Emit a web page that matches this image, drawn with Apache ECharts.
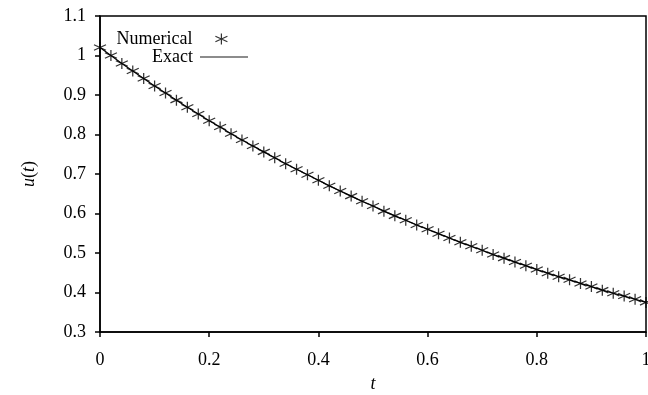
<!DOCTYPE html>
<html>
<head>
<meta charset="utf-8">
<script src="https://cdn.jsdelivr.net/npm/echarts@6/dist/echarts.min.js"></script>
<style>html,body{margin:0;padding:0;background:#fff}#c{width:648px;height:395px}</style>
</head>
<body>
<div id="c"></div>
<script>
var tValues = [0,0.02,0.04,0.06,0.08,0.1,0.12,0.14,0.16,0.18,0.2,0.22,0.24,0.26,0.28,0.3,0.32,0.34,0.36,0.38,0.4,0.42,0.44,0.46,0.48,0.5,0.52,0.54,0.56,0.58,0.6,0.62,0.64,0.66,0.68,0.7,0.72,0.74,0.76,0.78,0.8,0.82,0.84,0.86,0.88,0.9,0.92,0.94,0.96,0.98,1];
var numericalValues = [1.020,1.000,0.980,0.961,0.942,0.923,0.905,0.887,0.869,0.852,0.835,0.819,0.802,0.786,0.771,0.756,0.741,0.726,0.712,0.698,0.684,0.670,0.657,0.644,0.631,0.619,0.606,0.594,0.583,0.571,0.560,0.549,0.538,0.527,0.517,0.507,0.496,0.487,0.477,0.468,0.458,0.449,0.440,0.432,0.423,0.415,0.406,0.398,0.391,0.383,0.375];
var exactValues = [1.020,1.000,0.980,0.961,0.942,0.923,0.905,0.887,0.869,0.852,0.835,0.819,0.802,0.786,0.771,0.756,0.741,0.726,0.712,0.698,0.684,0.670,0.657,0.644,0.631,0.619,0.606,0.594,0.583,0.571,0.560,0.549,0.538,0.527,0.517,0.507,0.496,0.487,0.477,0.468,0.458,0.449,0.440,0.432,0.423,0.415,0.406,0.398,0.391,0.383,0.375];
var seriesNames = ['Numerical','Exact'];

var FONT = 'Liberation Serif';
var starPath = 'path://M6,0L6,11M0,2.75L12,8.25M0,8.25L12,2.75';

function pairs(xs, ys){ return xs.map(function(x,i){ return [x, ys[i]]; }); }

var chart = echarts.init(document.getElementById('c'), null, {renderer:'canvas'});
chart.setOption({
  animation:false,
  backgroundColor:'#fff',
  textStyle:{fontFamily:FONT, color:'#000'},
  grid:{left:100, right:2, top:16, bottom:63, outerBoundsMode:'none', containLabel:false,
        show:true, borderColor:'#000', borderWidth:1.5, backgroundColor:'transparent'},
  legend:[
    {
      orient:'horizontal', align:'right', right:420, top:30, padding:0,
      itemWidth:12, itemHeight:11,
      textStyle:{fontFamily:FONT, fontSize:18, color:'#000', padding:[0,18,0,0]},
      data:[{name:seriesNames[0], icon:starPath, itemStyle:{color:'transparent', borderColor:'#000', borderWidth:1.2}}]
    },
    {
      orient:'horizontal', align:'right', right:400, top:48, padding:0,
      itemWidth:48, itemHeight:1.3,
      textStyle:{fontFamily:FONT, fontSize:18, color:'#000', padding:[0,2,0,0]},
      data:[{name:seriesNames[1], icon:'rect', itemStyle:{color:'#666', borderWidth:0}}]
    }
  ],
  xAxis:{
    type:'value', min:0, max:1, interval:0.2,
    name:'t', nameLocation:'middle', nameGap:43,
    nameTextStyle:{fontFamily:FONT, fontSize:18, fontStyle:'italic', color:'#000'},
    axisLine:{show:true, lineStyle:{color:'#000', width:1.5}},
    axisTick:{show:true, inside:false, length:5, lineStyle:{color:'#000', width:1.5}},
    axisLabel:{color:'#000', fontFamily:FONT, fontSize:18, margin:19},
    splitLine:{show:false}
  },
  yAxis:{
    type:'value', min:0.3, max:1.1, interval:0.1,
    name:'{i|u}{n|(}{i|t}{n|)}', nameLocation:'middle', nameGap:62, nameRotate:90,
    nameTextStyle:{fontFamily:FONT, fontSize:18, color:'#000',
      rich:{i:{fontFamily:FONT, fontSize:18, fontStyle:'italic', color:'#000'}, n:{fontFamily:FONT, fontSize:18, color:'#000'}}},
    axisLine:{show:true, lineStyle:{color:'#000', width:1.5}},
    axisTick:{show:true, inside:false, length:5, lineStyle:{color:'#000', width:1.5}},
    axisLabel:{color:'#000', fontFamily:FONT, fontSize:18, margin:14},
    splitLine:{show:false}
  },
  series:[
    {
      name:seriesNames[1], type:'line', data:pairs(tValues, exactValues),
      showSymbol:false, symbol:'none', smooth:false,
      lineStyle:{color:'#000', width:1.2}, itemStyle:{color:'#666'}, z:2, clip:false
    },
    {
      name:seriesNames[0], type:'scatter', data:pairs(tValues, numericalValues),
      symbol:starPath, symbolSize:[12,11],
      itemStyle:{color:'transparent', borderColor:'#000', borderWidth:1.2}, z:3, clip:false
    }
  ]
});
</script>
</body>
</html>
